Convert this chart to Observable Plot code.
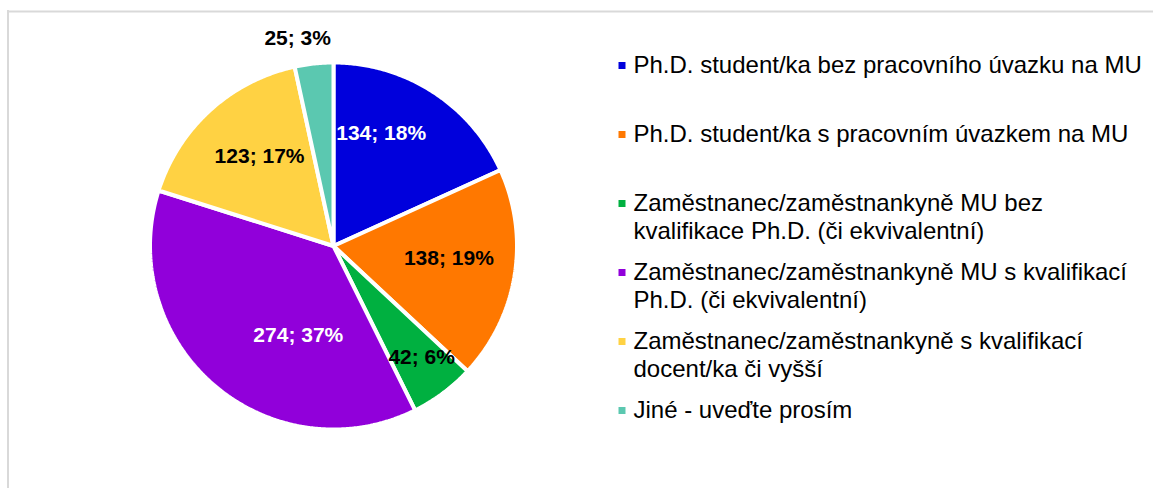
<!DOCTYPE html>
<html>
<head>
<meta charset="utf-8">
<script src="https://cdn.jsdelivr.net/npm/d3@7"></script>
<script src="https://cdn.jsdelivr.net/npm/@observablehq/plot@0.6"></script>
<style>
  html, body { margin: 0; padding: 0; background: #fff; }
  #chart svg { display: block; }
</style>
</head>
<body>
<div id="chart"></div>
<script>
// ---- data ----
const categories = [
  "Ph.D. student/ka bez pracovního úvazku na MU",
  "Ph.D. student/ka s pracovním úvazkem na MU",
  "Zaměstnanec/zaměstnankyně MU bez\nkvalifikace Ph.D. (či ekvivalentní)",
  "Zaměstnanec/zaměstnankyně MU s kvalifikací\nPh.D. (či ekvivalentní)",
  "Zaměstnanec/zaměstnankyně s kvalifikací\ndocent/ka či vyšší",
  "Jiné - uveďte prosím"
];
const counts = [134, 138, 42, 274, 123, 25];
const percents = [18, 19, 6, 37, 17, 3];
const colors = ["#0000DC", "#FF7800", "#00B040", "#9100DA", "#FFD243", "#5BC8B0"];
const whiteLabel = [true, false, false, true, false, false];

// ---- layout ----
const W = 1153, H = 488;
const cx = 333, cy = 245.5, R = 183.5;
// label placement (Excel "best fit"): [angle in degrees, radius in px]
const labelPolar = [[23, 122], [96, 116], [141.6, 142], [201.5, 96], [320.4, 116], [350.2, 210.6]];
const legendX = 621.5, legendTextX = 633, legendTop = 65, legendStep = 69;
const labelFont = 21, legendFont = 24;

const arcs = d3.pie().sort(null).value(d => d)(counts);
const slicePts = [];
arcs.forEach((a, i) => {
  slicePts.push({cat: categories[i], x: cx, y: cy});
  const n = Math.max(4, Math.ceil((a.endAngle - a.startAngle) / (Math.PI / 360)));
  for (let k = 0; k <= n; k++) {
    const t = a.startAngle + (a.endAngle - a.startAngle) * k / n;
    slicePts.push({cat: categories[i], x: cx + R * Math.sin(t), y: cy - R * Math.cos(t)});
  }
});

const labels = counts.map((c, i) => {
  const ang = labelPolar[i][0] * Math.PI / 180, r = labelPolar[i][1];
  return {
    text: `${c}; ${percents[i]}%`,
    x: cx + r * Math.sin(ang),
    y: cy - r * Math.cos(ang),
    white: whiteLabel[i]
  };
});

const legend = categories.map((c, i) => ({
  cat: c,
  y: legendTop + i * legendStep
}));

const plot = Plot.plot({
  width: W,
  height: H,
  margin: 0,
  style: {fontFamily: "'Liberation Sans', Arial, sans-serif", background: "#fff"},
  x: {domain: [0, W], range: [0, W], axis: null},
  y: {domain: [0, H], range: [0, H], axis: null},
  color: {domain: categories, range: colors},
  marks: [
    // chart frame (top and left edges)
    Plot.ruleY([11], {x1: 7.5, x2: W, stroke: "#d9d9d9", strokeWidth: 2}),
    Plot.ruleX([7.5], {y1: 10, y2: H, stroke: "#d9d9d9", strokeWidth: 2}),
    // pie slices
    Plot.line(slicePts, {
      x: "x", y: "y", z: "cat", fill: "cat",
      stroke: "white", strokeWidth: 4, strokeLinejoin: "miter",
      curve: "linear-closed"
    }),
    // data labels
    Plot.text(labels.filter(d => d.white), {
      x: "x", y: "y", text: "text", fill: "white",
      fontSize: labelFont, fontWeight: "bold"
    }),
    Plot.text(labels.filter(d => !d.white), {
      x: "x", y: "y", text: "text", fill: "black",
      fontSize: labelFont, fontWeight: "bold"
    }),
    // legend
    Plot.dot(legend, {
      x: legendX, y: "y", fill: "cat", symbol: "square", r: 3.95, stroke: null
    }),
    Plot.text(legend, {
      x: legendTextX, y: d => d.y - 0.39 * legendFont - 3, text: "cat",
      textAnchor: "start", lineAnchor: "top", lineHeight: 28 / legendFont,
      fontSize: legendFont, fill: "black"
    })
  ]
});
document.getElementById("chart").appendChild(plot);
</script>
</body>
</html>
